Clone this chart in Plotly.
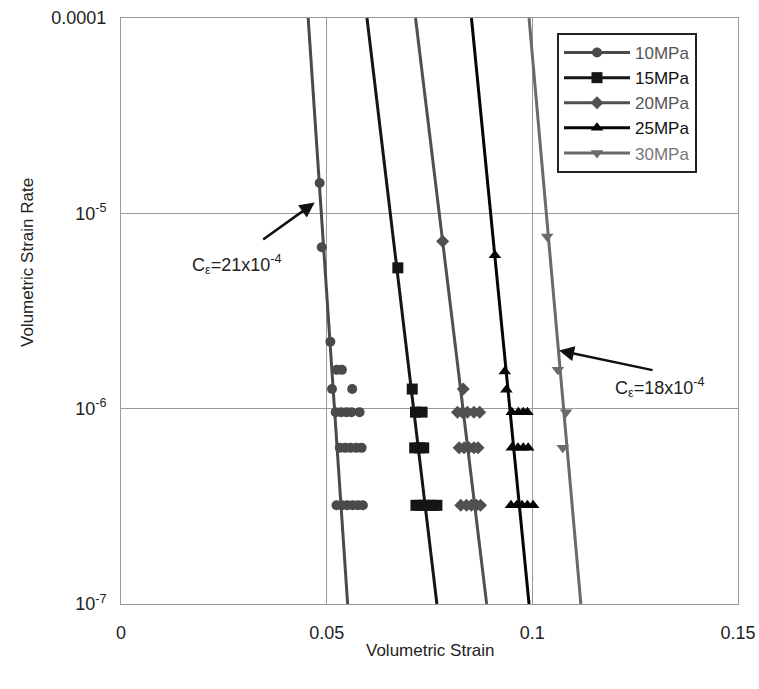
import plotly.graph_objects as go

# ---------------- data ----------------
series_names = ["10MPa", "15MPa", "20MPa", "25MPa", "30MPa"]

strain_10 = [0.0483, 0.0488, 0.0509, 0.0525, 0.0537, 0.0513, 0.0562,
             0.0522, 0.0535, 0.0548, 0.0560, 0.0580,
             0.0532, 0.0545, 0.0558, 0.0572, 0.0585,
             0.0524, 0.0537, 0.0550, 0.0563, 0.0576, 0.0588]
rate_10 = [1.43e-5, 6.7e-6, 2.2e-6, 1.58e-6, 1.58e-6, 1.26e-6, 1.26e-6,
           9.6e-7, 9.6e-7, 9.6e-7, 9.6e-7, 9.6e-7,
           6.3e-7, 6.3e-7, 6.3e-7, 6.3e-7, 6.3e-7,
           3.2e-7, 3.2e-7, 3.2e-7, 3.2e-7, 3.2e-7, 3.2e-7]

strain_15 = [0.0673, 0.0708,
             0.0716, 0.0732,
             0.0714, 0.0726, 0.0736,
             0.0717, 0.0727, 0.0737, 0.0747, 0.0758, 0.0768]
rate_15 = [5.26e-6, 1.26e-6,
           9.6e-7, 9.6e-7,
           6.3e-7, 6.3e-7, 6.3e-7,
           3.2e-7, 3.2e-7, 3.2e-7, 3.2e-7, 3.2e-7, 3.2e-7]

strain_20 = [0.0782, 0.0832,
             0.0818, 0.0830, 0.0842, 0.0858, 0.0872,
             0.0822, 0.0834, 0.0846, 0.0858, 0.0868,
             0.0826, 0.0840, 0.0852, 0.0864, 0.0874]
rate_20 = [7.2e-6, 1.26e-6,
           9.6e-7, 9.6e-7, 9.6e-7, 9.6e-7, 9.6e-7,
           6.3e-7, 6.3e-7, 6.3e-7, 6.3e-7, 6.3e-7,
           3.2e-7, 3.2e-7, 3.2e-7, 3.2e-7, 3.2e-7]

strain_25 = [0.0909, 0.0933, 0.0937,
             0.0950, 0.0966, 0.0978, 0.0988,
             0.0950, 0.0965, 0.0978, 0.0990,
             0.0948, 0.0962, 0.0975, 0.0988, 0.1002]
rate_25 = [6.1e-6, 1.55e-6, 1.25e-6,
           9.6e-7, 9.6e-7, 9.6e-7, 9.6e-7,
           6.3e-7, 6.3e-7, 6.3e-7, 6.3e-7,
           3.2e-7, 3.2e-7, 3.2e-7, 3.2e-7, 3.2e-7]

strain_30 = [0.1036, 0.1062, 0.1082, 0.1074]
rate_30 = [7.6e-6, 1.58e-6, 9.6e-7, 6.3e-7]

# fitted lines: strain at rate = 1e-4 (top) and 1e-7 (bottom)
fit_rates = [1e-4, 1e-7]
fit_strain_top = [0.0455, 0.0598, 0.0716, 0.0852, 0.0992]
fit_strain_bottom = [0.0551, 0.0768, 0.0889, 0.0992, 0.1118]

x_ticks = [0, 0.05, 0.1, 0.15]
x_ticktext = ["0", "0.05", "0.1", "0.15"]
y_ticks = [1e-7, 1e-6, 1e-5, 1e-4]
y_ticktext = ["10<sup>-7</sup>", "10<sup>-6</sup>", "10<sup>-5</sup>", "0.0001"]

# ---------------- style ----------------
colors = ["#4a4a4a", "#151515", "#505050", "#050505", "#6a6a6a"]
text_colors = ["#555555", "#111111", "#555555", "#111111", "#777777"]
symbols = ["circle", "square", "diamond", "triangle-up", "triangle-down"]
sizes = [10, 11, 10, 11, 11]

strains = [strain_10, strain_15, strain_20, strain_25, strain_30]
rates = [rate_10, rate_15, rate_20, rate_25, rate_30]

FONT = "Liberation Sans, Arial, sans-serif"
W, H = 759, 689
ML, MR, MT, MB = 121, 21, 18, 85

fig = go.Figure()

for i, name in enumerate(series_names):
    fig.add_trace(go.Scatter(
        x=[fit_strain_top[i], fit_strain_bottom[i]], y=fit_rates,
        mode="lines", line=dict(color=colors[i], width=3),
        showlegend=False, hoverinfo="skip"))
    fig.add_trace(go.Scatter(
        x=strains[i], y=rates[i], mode="markers",
        marker=dict(symbol=symbols[i], size=sizes[i], color=colors[i]),
        showlegend=False))
    fig.add_trace(go.Scatter(
        x=[None], y=[None], mode="lines+markers",
        name=f'<span style="color:{text_colors[i]}">{name}</span>',
        line=dict(color=colors[i], width=3),
        marker=dict(symbol=symbols[i], size=sizes[i], color=colors[i])))

fig.update_xaxes(
    range=[0, 0.15], tickvals=x_ticks, ticktext=x_ticktext,
    showgrid=True, gridcolor="#9a9a9a", gridwidth=1,
    showline=True, linecolor="#9a9a9a", linewidth=1, mirror=True,
    zeroline=False, ticks="", ticklabelstandoff=12, automargin=False,
    tickfont=dict(family=FONT, size=18, color="#222"))
fig.update_yaxes(
    type="log", range=[-7, -4], tickvals=y_ticks, ticktext=y_ticktext,
    showgrid=True, gridcolor="#9a9a9a", gridwidth=1,
    showline=True, linecolor="#9a9a9a", linewidth=1, mirror=True,
    zeroline=False, ticks="", ticklabelstandoff=10, automargin=False,
    tickfont=dict(family=FONT, size=18, color="#222"))

plot_w = W - ML - MR
plot_h = H - MT - MB

fig.update_layout(
    width=W, height=H,
    margin=dict(l=ML, r=MR, t=MT, b=MB),
    paper_bgcolor="white", plot_bgcolor="white",
    font=dict(family=FONT, size=18, color="#222"),
    legend=dict(x=(557 - ML) / plot_w, y=1 - (33 - MT) / plot_h,
                xanchor="left", yanchor="top",
                bgcolor="white", bordercolor="#222", borderwidth=2,
                font=dict(family=FONT, size=17), tracegroupgap=0,
                itemwidth=66),
    annotations=[
        dict(x=0.04708, y=-4.945, xref="x", yref="y", text="",
             showarrow=True, arrowhead=2, arrowsize=1.2, arrowwidth=2.5,
             arrowcolor="#111", ax=-53, ay=38),
        dict(x=0.1065, y=-5.702, xref="x", yref="y", text="",
             showarrow=True, arrowhead=2, arrowsize=1.2, arrowwidth=2.5,
             arrowcolor="#111", ax=95, ay=20),
        dict(x=0.0167, y=-5.263, xref="x", yref="y", xanchor="left",
             text="C<sub>ε</sub>=21x10<sup>-4</sup>", showarrow=False,
             font=dict(family=FONT, size=18, color="#222")),
        dict(x=0.1196, y=-5.893, xref="x", yref="y", xanchor="left",
             text="C<sub>ε</sub>=18x10<sup>-4</sup>", showarrow=False,
             font=dict(family=FONT, size=18, color="#222")),
        dict(x=(27 - ML) / plot_w, y=(H - MB - 263) / plot_h,
             xref="paper", yref="paper", xanchor="center", yanchor="middle",
             text="Volumetric Strain Rate", showarrow=False, textangle=-90,
             font=dict(family=FONT, size=17, color="#222")),
        dict(x=(430 - ML) / plot_w, y=-(650 - (H - MB)) / plot_h,
             xref="paper", yref="paper", xanchor="center", yanchor="middle",
             text="Volumetric Strain", showarrow=False,
             font=dict(family=FONT, size=17, color="#222")),
    ],
)

fig.write_html("out.html")
